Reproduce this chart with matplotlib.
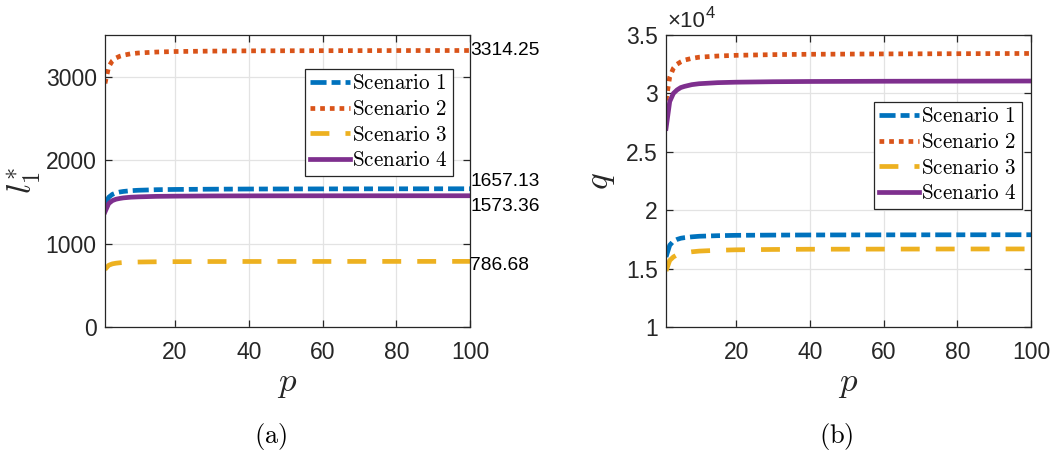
import numpy as np
import matplotlib
matplotlib.use('Agg')
import matplotlib.pyplot as plt
from matplotlib.ticker import FuncFormatter

plt.rcParams['mathtext.fontset'] = 'cm'
plt.rcParams['font.family'] = ['Liberation Sans', 'DejaVu Sans']

# Sampled values of the optimal l_1* and q against p for the four scenarios
p = [1, 2, 3, 4, 5, 6, 8, 10, 15, 20, 30, 40, 60, 80, 100]

l1_s1 = [1450, 1555, 1590, 1608, 1618, 1625, 1634, 1639, 1646, 1649, 1652, 1654, 1655.5, 1656.5, 1657.13]
l1_s2 = [2920, 3120, 3190, 3225, 3245, 3258, 3275, 3284, 3296, 3302, 3307, 3310, 3312, 3313.5, 3314.25]
l1_s3 = [690, 740, 757, 765, 770, 773, 777, 779, 782, 783.5, 785, 785.5, 786, 786.4, 786.68]
l1_s4 = [1380, 1480, 1515, 1532, 1541, 1548, 1556, 1560, 1566, 1568.5, 1571, 1572, 1572.8, 1573.1, 1573.36]

q_s1 = [16000, 17000, 17350, 17500, 17600, 17650, 17720, 17770, 17820, 17850, 17870, 17880, 17890, 17895, 17900]
q_s2 = [29400, 31400, 32150, 32500, 32700, 32850, 33000, 33100, 33200, 33260, 33320, 33350, 33380, 33400, 33420]
q_s3 = [14800, 15700, 16000, 16180, 16280, 16350, 16440, 16500, 16570, 16610, 16640, 16660, 16670, 16680, 16685]
q_s4 = [27000, 29300, 30000, 30300, 30500, 30600, 30750, 30830, 30920, 30960, 31000, 31020, 31040, 31050, 31060]

labels = [r'$\mathrm{Scenario\ 1}$', r'$\mathrm{Scenario\ 2}$',
          r'$\mathrm{Scenario\ 3}$', r'$\mathrm{Scenario\ 4}$']
end_labels = ['1657.13', '3314.25', '786.68', '1573.36']
end_offsets = [5, 0, -3, -8]

colors = ['#0072BD', '#D95319', '#EDB120', '#7E2F8E']
styles = [(0, (3.4, 1.06, 1.9, 1.06)), (0, (1, 1.05)), (0, (4.0, 3.4)), '-']
lw = 3.4
axcol = '#262626'

fig = plt.figure(figsize=(10.51, 4.51), dpi=100)
ax1 = fig.add_axes([0.0999, 0.2749, 0.3473, 0.6475])
ax2 = fig.add_axes([0.6337, 0.2749, 0.3473, 0.6475])

for ys, c, ls, lab in zip([l1_s1, l1_s2, l1_s3, l1_s4], colors, styles, labels):
    ax1.plot(p, ys, color=c, ls=ls, lw=lw, label=lab)
for ys, c, ls, lab in zip([q_s1, q_s2, q_s3, q_s4], colors, styles, labels):
    ax2.plot(p, ys, color=c, ls=ls, lw=lw, label=lab)

# final values written just right of the left panel
for ys, txt, off in zip([l1_s1, l1_s2, l1_s3, l1_s4], end_labels, end_offsets):
    ax1.annotate(txt, xy=(p[-1], ys[-1]), xytext=(0, off), textcoords='offset points',
                 ha='left', va='center', fontsize=13.8, color='black',
                 annotation_clip=False)

ax1.set_xlim(1, 100)
ax1.set_ylim(0, 3500)
ax1.set_xticks([20, 40, 60, 80, 100])
ax1.set_yticks([0, 1000, 2000, 3000])

ax2.set_xlim(1, 100)
ax2.set_ylim(10000, 35000)
ax2.set_xticks([20, 40, 60, 80, 100])
ax2.set_yticks(np.arange(10000, 35001, 5000))
ax2.yaxis.set_major_formatter(FuncFormatter(lambda v, pos: '%g' % (v / 1e4)))
mult = ax2.text(0.005, 1.01, '\u00d710', transform=ax2.transAxes,
                ha='left', va='bottom', fontsize=16, color=axcol)
ax2.annotate('4', xy=(1, 0.55), xycoords=mult, ha='left', va='bottom',
             fontsize=12, color=axcol)

for ax in (ax1, ax2):
    ax.grid(True, color='#e3e3e3', lw=0.9)
    ax.set_axisbelow(True)
    for s in ax.spines.values():
        s.set_color(axcol)
        s.set_linewidth(0.9)
    ax.tick_params(direction='in', top=True, right=True, length=5,
                   width=0.9, colors=axcol, labelsize=16.5)
    ax.tick_params(axis='y', pad=6)
    ax.tick_params(axis='x', pad=10)
    ax.set_xlabel(r'$p$', fontsize=25, color=axcol, labelpad=2)

ax1.set_ylabel(r'$l_1^{*}$', fontsize=25, color=axcol, labelpad=2)
ax2.set_ylabel(r'$q$', fontsize=25, color=axcol, labelpad=6)

leg_kw = dict(loc='upper right', fontsize=15.2, frameon=True, fancybox=False,
              edgecolor=axcol, handlelength=1.9, handletextpad=0.1,
              borderpad=0.25, labelspacing=0.32, borderaxespad=0)
leg1 = ax1.legend(bbox_to_anchor=(0.953, 0.884), **leg_kw)
leg2 = ax2.legend(bbox_to_anchor=(0.975, 0.771), **leg_kw)
for leg in (leg1, leg2):
    leg.get_frame().set_linewidth(0.9)
    leg.get_frame().set_alpha(1)

fig.text(271 / 1051, 1 - 436 / 451, r'$\mathrm{(a)}$', ha='center', va='center', fontsize=19)
fig.text(836 / 1051, 1 - 436 / 451, r'$\mathrm{(b)}$', ha='center', va='center', fontsize=19)

fig.savefig('out.png', dpi=100)
